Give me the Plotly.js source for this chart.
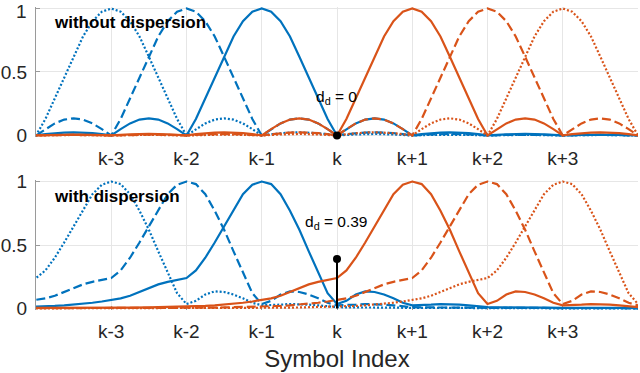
<!DOCTYPE html>
<html>
<head>
<meta charset="utf-8">
<script src="https://cdn.plot.ly/plotly-3.0.1.min.js"></script>
<style>
  html, body { margin: 0; padding: 0; background: #fff; }
  #chart { width: 640px; height: 373px; }
</style>
</head>
<body>
<div id="chart"></div>
<script>
// symbol positions relative to k, and their labels
const symbolCenters = [-3, -2, -1, 1, 2, 3];
const tickVals = [-3, -2, -1, 0, 1, 2, 3];
const tickText = ['k-3', 'k-2', 'k-1', 'k', 'k+1', 'k+2', 'k+3'];
const yTickVals = [0, 0.5, 1];
const yTickText = ['0', '0.5', '1'];

// sample points of one pulse, in symbols from its own centre
const pulseOffsets = [
  -7, -6.5, -6, -5.5, -5, -4.75, -4.5, -4.25, -4, -3.75, -3.5, -3.25,
  -3, -2.875, -2.75, -2.625, -2.5, -2.375, -2.25, -2.125,
  -2, -1.875, -1.75, -1.625, -1.5, -1.375, -1.25, -1.125,
  -1, -0.875, -0.75, -0.625, -0.5, -0.375, -0.25, -0.125,
  0, 0.125, 0.25, 0.375, 0.5, 0.625, 0.75, 0.875,
  1, 1.125, 1.25, 1.375, 1.5, 1.625, 1.75, 1.875,
  2, 2.125, 2.25, 2.375, 2.5, 2.625, 2.75, 2.875,
  3, 3.25, 3.5, 3.75, 4, 4.25, 4.5, 4.75, 5, 5.5, 6, 6.5, 7
];

// pulse power without dispersion
const pulseNoDisp = [
  0, 0.004, 0, 0.005, 0, 0.005, 0.007, 0.005, 0, 0.008, 0.012, 0.008,
  0, 0.01, 0.018, 0.023, 0.025, 0.023, 0.018, 0.01,
  0, 0.05, 0.095, 0.125, 0.135, 0.125, 0.095, 0.05,
  0, 0.13, 0.29, 0.46, 0.62, 0.78, 0.90, 0.975,
  1, 0.975, 0.90, 0.78, 0.62, 0.46, 0.29, 0.13,
  0, 0.05, 0.095, 0.125, 0.135, 0.125, 0.095, 0.05,
  0, 0.01, 0.018, 0.023, 0.025, 0.023, 0.018, 0.01,
  0, 0.008, 0.012, 0.008, 0, 0.005, 0.007, 0.005, 0, 0.005, 0, 0.004, 0
];

// pulse power with dispersion
const pulseDisp = [
  0.001, 0.001, 0.002, 0.002, 0.003, 0.003, 0.004, 0.004, 0.005, 0.006, 0.008, 0.01,
  0.013, 0.016, 0.02, 0.025, 0.03, 0.036, 0.045, 0.055,
  0.065, 0.08, 0.10, 0.13, 0.16, 0.19, 0.21, 0.225,
  0.24, 0.30, 0.40, 0.52, 0.65, 0.78, 0.90, 0.975,
  1, 0.98, 0.90, 0.77, 0.62, 0.45, 0.28, 0.12,
  0.035, 0.06, 0.11, 0.135, 0.13, 0.11, 0.08, 0.045,
  0.025, 0.025, 0.03, 0.035, 0.035, 0.03, 0.025, 0.015,
  0.01, 0.008, 0.01, 0.007, 0.004, 0.005, 0.006, 0.004, 0.002, 0.003, 0.002, 0.002, 0.001
];

// interference at symbol k
const ddNoDisp = 0;
const ddDisp = 0.39;

const blue = '#0072BD';
const orange = '#D95319';
const lineStyles = [
  { color: blue, dash: '2px,2px' },
  { color: blue, dash: '9px,4px' },
  { color: blue, dash: 'solid' },
  { color: orange, dash: 'solid' },
  { color: orange, dash: '9px,4px' },
  { color: orange, dash: '2px,2px' }
];
const font = 'Liberation Sans, Arial, Helvetica, sans-serif';
const tickFont = { family: font, size: 19, color: '#262626' };

function pulseTraces(values, xa, ya) {
  return symbolCenters.map((c, i) => ({
    x: pulseOffsets.map(o => c + o),
    y: values,
    xaxis: xa, yaxis: ya,
    mode: 'lines',
    type: 'scatter',
    line: { color: lineStyles[i].color, dash: lineStyles[i].dash, width: 2.2 },
    hoverinfo: 'skip',
    showlegend: false
  }));
}

function stemTraces(dd, xa, ya) {
  return [
    {
      x: [0, 0], y: [0, dd], xaxis: xa, yaxis: ya,
      mode: 'lines', type: 'scatter',
      line: { color: '#000', width: 2 },
      hoverinfo: 'skip', showlegend: false
    },
    {
      x: [0], y: [dd], xaxis: xa, yaxis: ya,
      mode: 'markers', type: 'scatter',
      marker: { color: '#000', size: 8 },
      cliponaxis: false,
      hoverinfo: 'skip', showlegend: false
    }
  ];
}

const xBase = {
  range: [-4, 4],
  tickvals: tickVals,
  ticktext: tickText,
  ticks: 'inside',
  ticklen: 4,
  tickcolor: '#9a9a9a',
  showgrid: true,
  gridcolor: '#e6e6e6',
  zeroline: false,
  showline: false,
  layer: 'below traces',
  ticklabelstandoff: 8,
  tickfont: tickFont
};

const yBase = {
  range: [-0.012, 1.012],
  tickvals: yTickVals,
  ticktext: yTickText,
  ticks: 'inside',
  ticklen: 4,
  tickcolor: '#9a9a9a',
  showgrid: true,
  gridcolor: '#e6e6e6',
  zeroline: false,
  showline: true,
  linecolor: '#9a9a9a',
  linewidth: 1,
  layer: 'below traces',
  ticklabelstandoff: 4,
  tickfont: tickFont
};

// top "1" sits at the very edge of the figure, so it is placed as a note just below
const topYTickText = yTickText.map((t, i) => (i === yTickText.length - 1 ? '' : t));

const layout = {
  width: 640,
  height: 373,
  margin: { l: 36, r: 2, t: 7, b: 63 },
  paper_bgcolor: '#fff',
  plot_bgcolor: '#fff',
  showlegend: false,
  xaxis: Object.assign({}, xBase, { anchor: 'y' }),
  yaxis: Object.assign({}, yBase, { anchor: 'x', domain: [0.571, 1], ticktext: topYTickText }),
  xaxis2: Object.assign({}, xBase, {
    anchor: 'y2',
    title: { text: 'Symbol Index', font: { family: font, size: 24, color: '#262626' }, standoff: 9 }
  }),
  yaxis2: Object.assign({}, yBase, { anchor: 'x2', domain: [0, 0.429] }),
  annotations: [
    {
      xref: 'paper', yref: 'y', x: -0.012, y: 0.975, xanchor: 'right', yanchor: 'middle',
      text: yTickText[yTickText.length - 1], showarrow: false,
      font: tickFont
    },
    {
      xref: 'x', yref: 'y', x: -3.79, y: 0.89, xanchor: 'left', yanchor: 'middle',
      text: '<b>without dispersion</b>', showarrow: false,
      font: { family: font, size: 17, color: '#000' }
    },
    {
      xref: 'x2', yref: 'y2', x: -3.79, y: 0.88, xanchor: 'left', yanchor: 'middle',
      text: '<b>with dispersion</b>', showarrow: false,
      font: { family: font, size: 17, color: '#000' }
    },
    {
      xref: 'x', yref: 'y', x: -0.3, y: 0.30, xanchor: 'left', yanchor: 'middle',
      text: 'd<sub>d</sub> = ' + ddNoDisp, showarrow: false,
      font: { family: font, size: 15.5, color: '#000' }
    },
    {
      xref: 'x2', yref: 'y2', x: -0.45, y: 0.68, xanchor: 'left', yanchor: 'middle',
      text: 'd<sub>d</sub> = ' + ddDisp, showarrow: false,
      font: { family: font, size: 15.5, color: '#000' }
    }
  ]
};

const data = [
  ...pulseTraces(pulseNoDisp, 'x', 'y'),
  ...stemTraces(ddNoDisp, 'x', 'y'),
  ...pulseTraces(pulseDisp, 'x2', 'y2'),
  ...stemTraces(ddDisp, 'x2', 'y2')
];

Plotly.newPlot('chart', data, layout, { staticPlot: true });
</script>
</body>
</html>
